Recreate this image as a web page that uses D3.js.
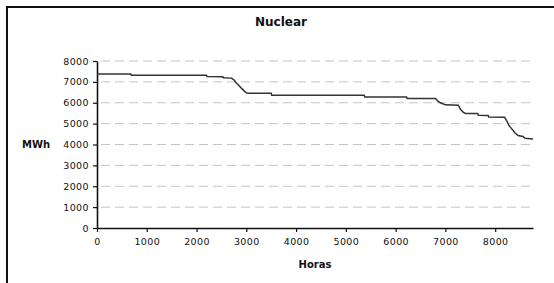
<!DOCTYPE html>
<html>
<head>
<meta charset="utf-8">
<script src="https://d3js.org/d3.v7.min.js"></script>
<style>
  body { margin: 0; background: #fff; }
  text { font-family: "DejaVu Sans", Verdana, sans-serif; fill: #111; }
</style>
</head>
<body>
<svg id="chart" width="554" height="283"></svg>
<script>
// duration curve: hours sorted vs MWh
var hours = [0, 680, 690, 2200, 2210, 2530, 2540, 2700, 2750, 2800, 2850, 2900, 2950, 3000, 3050,
             3500, 3510, 5370, 5380, 6220, 6230, 6800, 6850, 6900, 7000, 7260, 7300, 7350, 7400,
             7650, 7660, 7860, 7870, 8190, 8230, 8280, 8350, 8400, 8460, 8560, 8600, 8760];
var mwh = [7380, 7380, 7320, 7320, 7260, 7250, 7200, 7180, 7100, 6950, 6830, 6700, 6580, 6480, 6450,
           6450, 6360, 6360, 6280, 6280, 6200, 6200, 6080, 6000, 5900, 5880, 5700, 5560, 5490,
           5480, 5400, 5390, 5320, 5300, 5150, 4900, 4700, 4550, 4430, 4380, 4300, 4260];
var xTicks = [0, 1000, 2000, 3000, 4000, 5000, 6000, 7000, 8000];
var yTicks = [0, 1000, 2000, 3000, 4000, 5000, 6000, 7000, 8000];

var svg = d3.select("#chart");

// outer frame
svg.append("rect")
  .attr("x", 7).attr("y", 7).attr("width", 560).attr("height", 300)
  .attr("fill", "none").attr("stroke", "#111").attr("stroke-width", 2);

var x = d3.scaleLinear().domain([0, 8760]).range([97, 533]);
var y = d3.scaleLinear().domain([0, 8000]).range([228, 61]);

// gridlines
svg.append("g").selectAll("line")
  .data(yTicks.filter(function(d) { return d > 0; }))
  .join("line")
  .attr("x1", 101).attr("x2", 533)
  .attr("y1", function(d) { return y(d); })
  .attr("y2", function(d) { return y(d); })
  .attr("stroke", "#c4c4c4").attr("stroke-width", 1)
  .attr("stroke-dasharray", "9,5");

var fmt = d3.format("d");
var xAxis = svg.append("g")
  .attr("transform", "translate(0,228)")
  .call(d3.axisBottom(x).tickValues(xTicks).tickFormat(fmt).tickSize(4).tickPadding(6).tickSizeOuter(0));
var yAxis = svg.append("g")
  .attr("transform", "translate(97,0)")
  .call(d3.axisLeft(y).tickValues(yTicks).tickFormat(fmt).tickSize(4).tickPadding(4).tickSizeOuter(0));

[xAxis, yAxis].forEach(function(a) {
  a.select(".domain").attr("stroke", "#111").attr("stroke-width", 1.6);
  a.selectAll(".tick line").attr("stroke", "#111").attr("stroke-width", 1.2);
  a.selectAll(".tick text")
    .style("font-family", '"DejaVu Sans", Verdana, sans-serif')
    .style("font-size", "9.5px")
    .style("letter-spacing", "0.4px")
    .attr("fill", "#222");
});

var line = d3.line()
  .x(function(d, i) { return x(hours[i]); })
  .y(function(d) { return y(d); });

svg.append("path")
  .datum(mwh)
  .attr("d", line)
  .attr("fill", "none")
  .attr("stroke", "#333")
  .attr("stroke-width", 1.5);

svg.append("text")
  .attr("x", 281).attr("y", 26)
  .attr("text-anchor", "middle")
  .style("font-size", "12px").style("font-weight", "bold")
  .text("Nuclear");

svg.append("text")
  .attr("x", 22).attr("y", 148)
  .style("font-size", "10px").style("font-weight", "bold")
  .text("MWh");

svg.append("text")
  .attr("x", 315).attr("y", 268)
  .attr("text-anchor", "middle")
  .style("font-size", "10px").style("font-weight", "bold")
  .text("Horas");
</script>
</body>
</html>
